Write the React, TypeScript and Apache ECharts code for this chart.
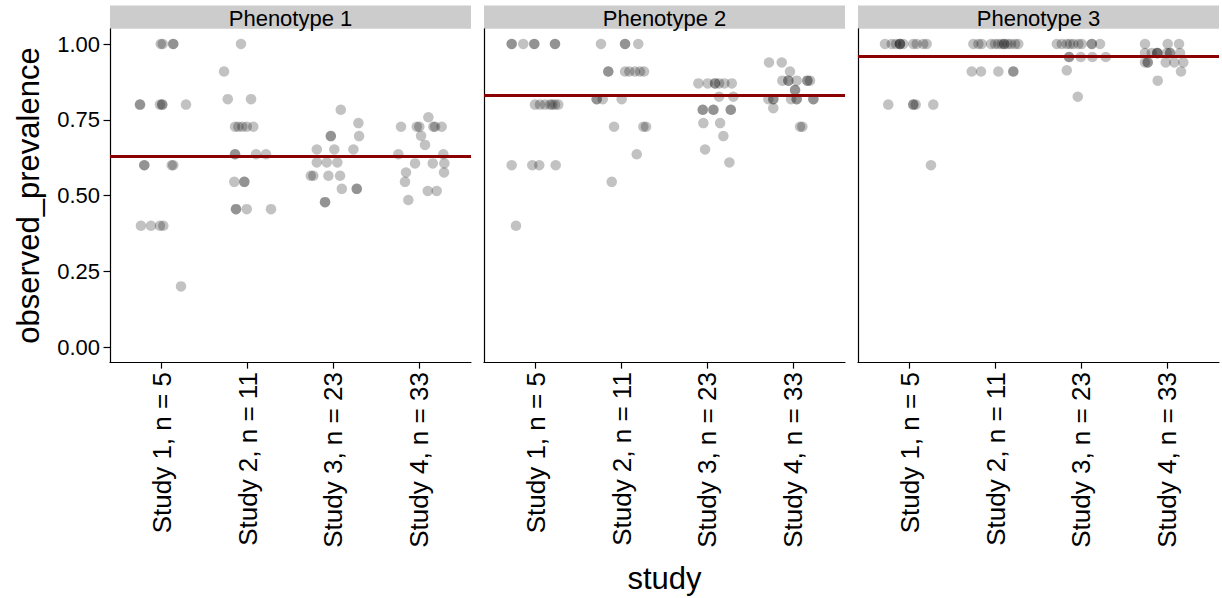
import React, { useEffect, useRef } from "react";
import * as echarts from "echarts";

const phenotypes = ["Phenotype 1", "Phenotype 2", "Phenotype 3"];
const studyLabels = ["Study 1, n = 5", "Study 2, n = 11", "Study 3, n = 23", "Study 4, n = 33"];
const studyPositions = [1, 2, 3, 4];
const yTicks = [0, 0.25, 0.5, 0.75, 1];
const meanPrevalence = [0.63, 0.83, 0.959];

// [jittered study position, observed prevalence]
const pheno1Points = [
  [0.99, 1], [1.013, 1], [1.136, 1], [1.136, 1],
  [0.749, 0.8], [0.749, 0.8], [0.981, 0.8], [1.008, 0.8], [1.008, 0.8], [1.284, 0.8],
  [0.799, 0.6], [0.799, 0.6], [1.118, 0.6], [1.136, 0.6],
  [0.76, 0.4], [0.877, 0.4], [0.981, 0.4], [1.02, 0.4],
  [1.226, 0.2],
  [1.924, 1], [1.727, 0.909], [1.77, 0.818], [2.041, 0.818],
  [1.855, 0.727], [1.893, 0.727], [1.94, 0.727], [1.991, 0.727], [2.067, 0.727],
  [1.855, 0.636], [1.855, 0.636], [2.099, 0.636], [2.215, 0.636],
  [1.846, 0.545], [1.963, 0.545], [1.963, 0.545],
  [1.866, 0.455], [1.866, 0.455], [1.991, 0.455], [2.273, 0.455],
  [3.085, 0.783], [3.29, 0.739], [2.969, 0.696], [2.969, 0.696], [3.298, 0.696],
  [2.806, 0.652], [3.01, 0.652], [3.232, 0.652],
  [2.806, 0.609], [2.922, 0.609], [3.045, 0.609],
  [2.736, 0.565], [2.766, 0.565], [2.941, 0.565], [3.077, 0.565],
  [3.097, 0.522], [3.271, 0.522], [3.271, 0.522],
  [2.902, 0.478], [2.902, 0.478],
  [4.104, 0.758],
  [3.786, 0.727], [3.969, 0.727], [3.999, 0.727], [4.162, 0.727], [4.182, 0.727], [4.259, 0.727],
  [4.019, 0.697], [4.065, 0.667], [3.755, 0.636], [4.278, 0.636],
  [3.949, 0.606], [4.155, 0.606], [4.29, 0.606],
  [3.844, 0.576], [4.286, 0.576], [3.832, 0.545],
  [4.097, 0.515], [4.201, 0.515], [3.871, 0.485],
];

const pheno2Points = [
  [0.722, 1], [0.722, 1], [0.857, 1], [0.985, 1], [0.985, 1], [1.226, 1], [1.226, 1],
  [0.993, 0.8], [1.051, 0.8], [1.109, 0.8], [1.168, 0.8], [1.194, 0.8], [1.226, 0.8], [1.264, 0.8],
  [0.722, 0.6], [0.962, 0.6], [1.043, 0.6], [1.234, 0.6],
  [0.772, 0.4],
  [1.761, 1], [2.041, 1], [2.041, 1], [2.195, 1],
  [1.846, 0.909], [1.846, 0.909], [2.041, 0.909], [2.091, 0.909], [2.157, 0.909], [2.215, 0.909], [2.262, 0.909],
  [1.711, 0.818], [1.711, 0.818], [1.781, 0.818], [2.002, 0.818],
  [1.913, 0.727], [2.254, 0.727], [2.285, 0.727],
  [2.177, 0.636], [1.886, 0.545],
  [2.894, 0.87], [3.003, 0.87], [3.088, 0.87], [3.088, 0.87], [3.135, 0.87], [3.197, 0.87], [3.283, 0.87],
  [3.135, 0.826], [3.301, 0.826],
  [2.945, 0.783], [2.945, 0.783], [3.069, 0.783], [3.069, 0.783], [3.271, 0.783], [3.271, 0.783],
  [2.952, 0.739], [3.147, 0.739], [3.185, 0.696], [2.972, 0.652], [3.255, 0.609],
  [3.716, 0.939], [3.864, 0.939], [3.96, 0.909],
  [3.871, 0.879], [3.941, 0.879], [3.941, 0.879], [4.038, 0.879], [4.162, 0.879], [4.162, 0.879], [4.193, 0.879],
  [4.019, 0.848], [4.019, 0.848],
  [3.708, 0.818], [3.766, 0.818], [3.766, 0.818], [3.972, 0.818], [4.038, 0.818], [4.038, 0.818], [4.232, 0.818], [4.232, 0.818],
  [3.766, 0.788],
  [4.077, 0.727], [4.104, 0.727],
];

const pheno3Points = [
  [0.714, 1], [0.792, 1], [0.842, 1], [0.888, 1], [0.888, 1], [0.888, 1], [0.927, 1], [1.043, 1], [1.083, 1], [1.159, 1], [1.199, 1],
  [0.752, 0.8], [1.043, 0.8], [1.043, 0.8], [1.071, 0.8], [1.276, 0.8],
  [1.249, 0.6],
  [1.742, 1], [1.8, 1], [1.839, 1], [1.948, 1], [1.994, 1], [2.033, 1], [2.072, 1], [2.102, 1], [2.102, 1], [2.142, 1], [2.18, 1], [2.227, 1], [2.265, 1],
  [1.723, 0.909], [1.831, 0.909], [2.033, 0.909], [2.207, 0.909], [2.207, 0.909],
  [2.713, 1], [2.771, 1], [2.829, 1], [2.867, 1], [2.906, 1], [2.964, 1], [3.003, 1], [3.12, 1], [3.12, 1], [3.216, 1],
  [2.856, 0.957], [2.856, 0.957], [2.992, 0.957], [3.127, 0.957], [3.283, 0.957],
  [2.829, 0.913], [2.957, 0.826],
  [3.739, 1], [4.003, 1], [4.135, 1],
  [3.739, 0.97], [3.817, 0.97], [3.882, 0.97], [3.882, 0.97], [3.882, 0.97], [3.992, 0.97], [4.03, 0.97], [4.03, 0.97], [4.147, 0.97],
  [3.739, 0.939], [3.771, 0.939], [3.771, 0.939], [3.98, 0.939], [4.08, 0.939], [4.185, 0.939],
  [4.158, 0.909], [3.887, 0.879],
];

const allPoints = [pheno1Points, pheno2Points, pheno3Points];

const FONT = "Liberation Sans, Arial, Helvetica, sans-serif";
const PANEL_LEFT = [110, 484, 858];
const PANEL_W = 361;
const PANEL_TOP = 28.85;
const PANEL_H = 333.3;
const STRIP_TOP = 5.5;

export default function App() {
  const ref = useRef<HTMLDivElement>(null);
  useEffect(() => {
    if (!ref.current) return;
    const chart = echarts.init(ref.current, undefined, { renderer: "svg" });
    const grids = PANEL_LEFT.map((left) => ({
      left,
      top: PANEL_TOP,
      width: PANEL_W,
      height: PANEL_H,
      containLabel: false,
      outerBoundsMode: "none",
    }));
    const xAxes = PANEL_LEFT.map((_, i) => ({
      type: "value",
      gridIndex: i,
      min: 0.4,
      max: 4.6,
      splitLine: { show: false },
      axisLine: { show: true, onZero: false, lineStyle: { color: "#000", width: 1.2 } },
      axisTick: { show: true, length: 6.5, customValues: studyPositions, lineStyle: { color: "#000", width: 1.2 } },
      axisLabel: {
        show: true,
        customValues: studyPositions,
        rotate: 90,
        margin: 10,
        color: "#000",
        fontFamily: FONT,
        fontSize: 26,
        formatter: (v: number) => studyLabels[Math.round(v) - 1] ?? "",
      },
      name: i === 1 ? "study" : "",
      nameLocation: "middle",
      nameGap: 201,
      nameTextStyle: { fontFamily: FONT, fontSize: 31, color: "#000" },
    }));
    const yAxes = PANEL_LEFT.map((_, i) => ({
      type: "value",
      gridIndex: i,
      min: -0.05,
      max: 1.05,
      splitLine: { show: false },
      axisLine: { show: true, onZero: false, lineStyle: { color: "#000", width: 1.2 } },
      axisTick: { show: i === 0, length: 6.5, customValues: yTicks, lineStyle: { color: "#000", width: 1.2 } },
      axisLabel: {
        show: i === 0,
        customValues: yTicks,
        margin: 10,
        color: "#000",
        fontFamily: FONT,
        fontSize: 22,
        formatter: (v: number) => v.toFixed(2),
      },
      name: i === 0 ? "observed_prevalence" : "",
      nameLocation: "middle",
      nameRotate: 90,
      nameGap: 66,
      nameTextStyle: { fontFamily: FONT, fontSize: 31, color: "#000" },
    }));
    const series = allPoints.map((pts, i) => ({
      type: "scatter",
      xAxisIndex: i,
      yAxisIndex: i,
      data: pts,
      symbolSize: 10.5,
      itemStyle: { color: "rgba(0,0,0,0.3)", borderWidth: 0 },
      silent: true,
      markLine: {
        silent: true,
        symbol: "none",
        label: { show: false },
        lineStyle: { color: "#8B0000", width: 3.2, type: "solid" },
        data: [{ yAxis: meanPrevalence[i] }],
        z: 10,
      },
    }));
    const graphic = phenotypes.flatMap((name, i) => [
      {
        type: "rect",
        shape: { x: PANEL_LEFT[i], y: STRIP_TOP, width: PANEL_W, height: PANEL_TOP - STRIP_TOP },
        style: { fill: "#cccccc" },
        silent: true,
      },
      {
        type: "text",
        x: PANEL_LEFT[i] + PANEL_W / 2,
        y: (STRIP_TOP + PANEL_TOP) / 2 + 1,
        style: {
          text: name,
          fill: "#000",
          font: `22px ${FONT}`,
          textAlign: "center",
          textVerticalAlign: "middle",
        },
        silent: true,
      },
    ]);
    chart.setOption({
      animation: false,
      backgroundColor: "#ffffff",
      grid: grids,
      xAxis: xAxes,
      yAxis: yAxes,
      series,
      graphic,
    } as any);
    return () => chart.dispose();
  }, []);
  return (
    <div
      ref={ref}
      style={{ position: "fixed", left: 0, top: 0, width: 1222, height: 598, background: "#fff" }}
    />
  );
}
